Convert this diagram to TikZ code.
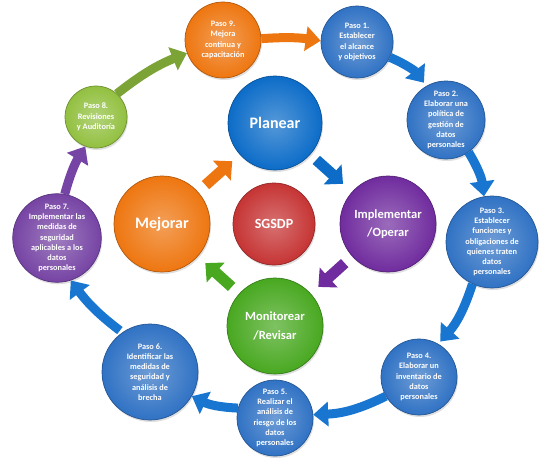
\documentclass[tikz,border=0pt]{standalone}
\usepackage{fontspec}
\setmainfont{Carlito}
\usetikzlibrary{arrows.meta,shadows}
\definecolor{stepblue}{RGB}{48,114,196}
\definecolor{planblue}{RGB}{12,108,200}
\definecolor{sgred}{RGB}{198,52,52}
\definecolor{impurple}{RGB}{112,44,158}
\definecolor{mongreen}{RGB}{72,168,32}
\definecolor{mejorange}{RGB}{238,118,16}
\definecolor{pgreen}{RGB}{146,192,64}
\definecolor{ppurple}{RGB}{118,68,164}
\definecolor{arrblue}{RGB}{24,118,208}
\begin{document}
\begin{tikzpicture}[x=1pt,y=-1pt,
  ball/.style={circle, draw=#1!75!black, line width=0.7pt,
    inner color=#1!70!white, outer color=#1, text=white, align=center,
    inner sep=0pt,
    drop shadow={opacity=0.25, shadow xshift=1pt, shadow yshift=-2pt}},
  small/.style={font=\fontsize{8.3}{10.3}\selectfont\bfseries},
  big/.style 2 args={font=\fontsize{#1}{#2}\selectfont\bfseries},
  bigarrow/.style={draw=#1, line width=9pt, -{Triangle[width=24pt,length=15pt]}},
  midarrow/.style={draw=#1, line width=11pt, -{Triangle[width=26pt,length=14pt]}}
]
\useasboundingbox (0,0) rectangle (548,467);

% outer steps
\node[ball=mejorange, minimum size=76pt, small] (p9) at (223,40) {Paso 9.\\Mejora\\continua y\\capacitación};
\node[ball=stepblue, minimum size=72pt, small] (p1) at (357,42) {Paso 1.\\Establecer\\el alcance\\y objetivos};
\node[ball=stepblue, minimum size=78pt, small] (p2) at (446,120) {Paso 2.\\Elaborar una\\política de\\gestión de\\datos\\personales};
\node[ball=stepblue, minimum size=92pt, small] (p3) at (492,242) {Paso 3.\\Establecer\\funciones y\\obligaciones de\\quienes traten\\datos\\personales};
\node[ball=stepblue, minimum size=76pt, small] (p4) at (419,377) {Paso 4.\\Elaborar un\\inventario de\\datos\\personales};
\node[ball=stepblue, minimum size=76pt, small] (p5) at (275,418) {Paso 5.\\Realizar el\\análisis de\\riesgo de los\\datos\\personales};
\node[ball=stepblue, minimum size=96pt, small] (p6) at (150,372) {Paso 6.\\Identificar las\\medidas de\\seguridad y\\análisis de\\brecha};
\node[ball=ppurple, minimum size=88pt, small] (p7) at (57,238) {Paso 7.\\Implementar las\\medidas de\\seguridad\\aplicables a los\\datos\\personales};
\node[ball=pgreen, minimum size=62pt, small] (p8) at (96,117) {Paso 8.\\Revisiones\\y Auditoría};

% center
\node[ball=planblue, minimum size=94pt, big={16}{20}] (pl) at (275,123) {Planear};
\node[ball=sgred, minimum size=82pt, big={14}{18}] (sg) at (274,224) {SGSDP};
\node[ball=impurple, minimum size=96pt, big={12.5}{18}] (im) at (388,224) {Implementar\\/Operar};
\node[ball=mongreen, minimum size=96pt, big={12.5}{19}] (mo) at (275,326) {Monitorear\\/Revisar};
\node[ball=mejorange, minimum size=96pt, big={16}{20}] (mj) at (162,224) {Mejorar};

% outer arrows
\draw[bigarrow=mejorange] (p9.2) to[bend left=6] (p1.178);
\draw[bigarrow=arrblue, shorten >=4pt] (p1.-25) to[bend left=15] (p2.120);
\draw[bigarrow=arrblue] (p2.-55) to[bend left=12] (p3.100);
\draw[bigarrow=arrblue, shorten >=3pt] (p3.-115) to[bend left=12] (p4.60);
\draw[bigarrow=arrblue] (p4.-150) to[bend left=12] (p5.5);
\draw[bigarrow=arrblue] (p5.165) to[bend left=12] (p6.-30);
\draw[bigarrow=arrblue, shorten <=3pt] (p6.125) to[bend left=8] (p7.-72);
\draw[bigarrow=ppurple] (p7.80) to[bend left=8] (p8.-110);
\draw[bigarrow=pgreen!85!black] (p8.48) to[bend left=8] (p9.-160);

% center arrows
\draw[midarrow=planblue, shorten <=8pt, shorten >=12pt] (pl) -- (im);
\draw[midarrow=impurple, shorten <=10pt, shorten >=10pt] (im) -- (mo);
\draw[midarrow=mongreen, shorten <=10pt, shorten >=10pt] (mo) -- (mj);
\draw[midarrow=mejorange, shorten <=10pt, shorten >=10pt] (mj) -- (pl);
\end{tikzpicture}
\end{document}
